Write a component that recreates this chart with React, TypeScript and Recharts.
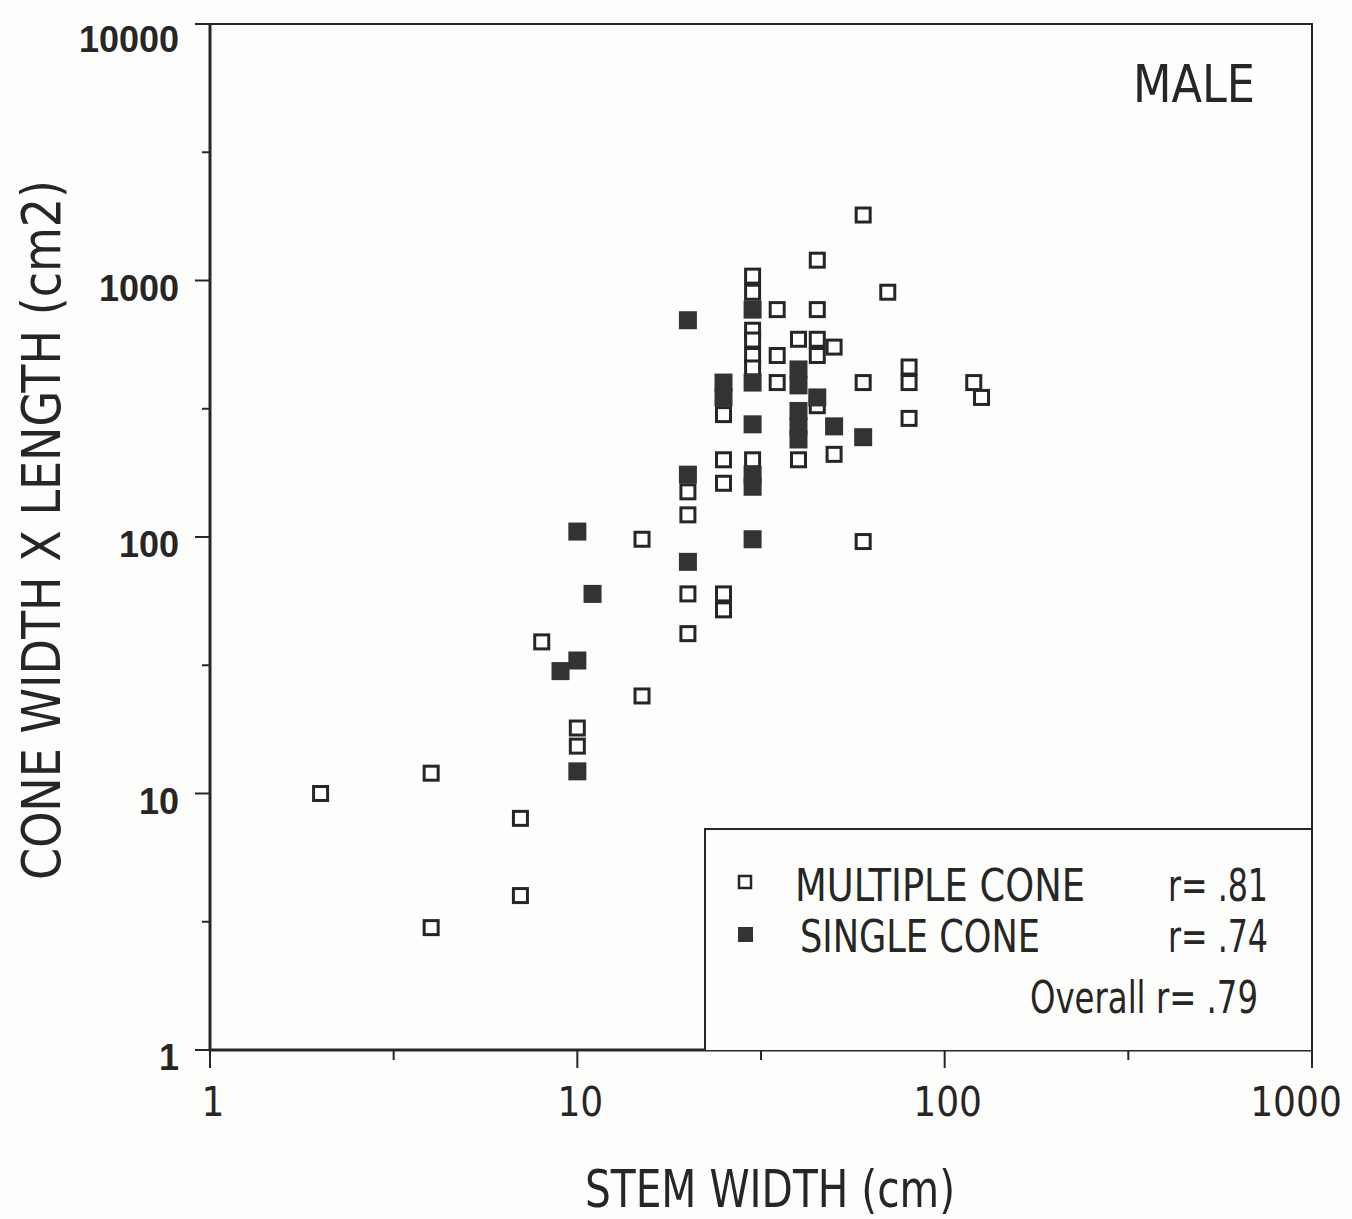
import { ScatterChart, Scatter, XAxis, YAxis, ReferenceArea, Legend } from 'recharts';

const INK = '#262626';
const BG = '#fdfdfb';
const NARROW = '"Liberation Sans Narrow", "Arial Narrow", "DejaVu Sans Condensed", "Liberation Sans", sans-serif';
const BOLD = '"Liberation Sans", Arial, sans-serif';

// axis ticks (log scale, minor marks at half decades)
const xTicks = [1, 3.162, 10, 31.62, 100, 316.2, 1000];
const xTickLabels = ['1', '', '10', '', '100', '', '1000'];
const yTicks = [1, 3.162, 10, 31.62, 100, 316.2, 1000, 3162, 10000];
const yTickLabels = ['1', '', '10', '', '100', '', '1000', '', '10000'];

// multiple cone trees (open squares)
const multipleStem = [2, 4, 4, 7, 7, 8, 10, 10, 15, 15, 20, 20, 20, 20, 25, 25, 25, 25, 25,
    30, 30, 30, 30, 30, 30, 30, 35, 35, 35, 40, 40, 45, 45, 45, 45, 45, 50, 50,
    60, 60, 60, 70, 80, 80, 80, 120, 126];
const multipleArea = [10, 12, 3, 8, 4, 39, 18, 15.3, 98, 24, 150, 122, 60, 42, 300, 200, 162, 60, 52,
    1040, 900, 640, 586, 510, 456, 200, 770, 510, 400, 590, 200, 1200, 770, 590, 510, 325, 550, 210,
    1800, 400, 96, 900, 460, 400, 290, 400, 350];

// single cone trees (filled squares)
const singleStem = [9, 10, 10, 10, 11, 20, 20, 20, 25, 25, 30, 30, 30, 30, 30, 30,
    40, 40, 40, 40, 40, 45, 50, 60];
const singleArea = [30, 105, 33, 12.2, 60, 700, 175, 80, 400, 350, 770, 400, 275, 175, 157, 98,
    450, 390, 310, 270, 240, 350, 270, 245];

const multipleData = multipleStem.map((x, i) => ({ x, y: multipleArea[i] }));
const singleData = singleStem.map((x, i) => ({ x, y: singleArea[i] }));

function OpenSquare({ cx, cy }: any) {
    return <rect x={cx - 7} y={cy - 7} width={14} height={14} fill="#fff" stroke={INK} strokeWidth={3} />;
}

function FilledSquare({ cx, cy }: any) {
    return <rect x={cx - 9} y={cy - 9} width={18} height={18} fill="#333" />;
}

function XTick({ x, y, index }: any) {
    const label = xTickLabels[index];
    const major = label !== '';
    const last = index === xTicks.length - 1;
    return (
        <g>
            <line x1={x} y1={y} x2={x} y2={y + (major ? 18 : 10)} stroke={INK} strokeWidth={2} />
            {major && (
                <text x={last ? x - 16 : x + 3} y={y + 66} textAnchor="middle"
                    fontFamily={NARROW} fontSize={40} fill={INK}>
                    {label}
                </text>
            )}
        </g>
    );
}

function YTick({ x, y, index }: any) {
    const label = yTickLabels[index];
    const major = label !== '';
    const dy = index === yTicks.length - 1 ? 28 : 20;
    return (
        <g>
            <line x1={x} y1={y} x2={x - (major ? 15 : 8)} y2={y} stroke={INK} strokeWidth={2} />
            {major && (
                <text x={x - 31} y={y + dy} textAnchor="end" fontFamily={BOLD} fontWeight="bold" fontSize={36} fill={INK}>
                    {label}
                </text>
            )}
        </g>
    );
}

function YTitle({ viewBox }: any) {
    const cx = viewBox.x + 60;
    const cy = viewBox.y + viewBox.height / 2 - 7;
    return (
        <text transform={`translate(${cx}, ${cy}) rotate(-90)`} textAnchor="middle" fontFamily={NARROW}
            fontSize={54} fill={INK} textLength={700} lengthAdjust="spacingAndGlyphs">
            CONE WIDTH X LENGTH (cm2)
        </text>
    );
}

function XTitle({ viewBox }: any) {
    return (
        <text x={viewBox.x + viewBox.width / 2 + 9} y={viewBox.y + 157} textAnchor="middle" fontFamily={NARROW}
            fontSize={52} fill={INK} textLength={370} lengthAdjust="spacingAndGlyphs">
            STEM WIDTH (cm)
        </text>
    );
}

function PanelTitle({ viewBox }: any) {
    return (
        <text x={viewBox.x + viewBox.width - 57} y={viewBox.y + 78} textAnchor="end" fontFamily={NARROW}
            fontSize={52} fill={INK} textLength={122} lengthAdjust="spacingAndGlyphs">
            MALE
        </text>
    );
}

function LegendBox() {
    const t = { fontFamily: NARROW, fontSize: 44, fill: INK };
    return (
        <svg width={608} height={222} style={{ display: 'block' }}>
            <rect x={1} y={1} width={607} height={222} fill={BG} stroke={INK} strokeWidth={2} />
            <rect x={35} y={48} width={12} height={12} fill="#fff" stroke={INK} strokeWidth={2.5} />
            <text x={91} y={73} {...t} textLength={290} lengthAdjust="spacingAndGlyphs">MULTIPLE CONE</text>
            <text x={464} y={73} {...t} textLength={100} lengthAdjust="spacingAndGlyphs">r= .81</text>
            <rect x={34} y={99} width={15} height={15} fill="#333" />
            <text x={96} y={124} {...t} textLength={240} lengthAdjust="spacingAndGlyphs">SINGLE CONE</text>
            <text x={464} y={124} {...t} textLength={100} lengthAdjust="spacingAndGlyphs">r= .74</text>
            <text x={326} y={185} {...t} textLength={228} lengthAdjust="spacingAndGlyphs">Overall r= .79</text>
        </svg>
    );
}

export default function App() {
    return (
        <div style={{ position: 'absolute', left: 0, top: 0, width: 1352, height: 1219, background: BG }}>
            <ScatterChart width={1352} height={1219} margin={{ top: 24, right: 40, bottom: 0, left: 0 }}>
                <XAxis
                    type="number"
                    dataKey="x"
                    scale="log"
                    domain={[1, 1000]}
                    ticks={xTicks}
                    interval={0}
                    height={169}
                    tickSize={0}
                    tickMargin={0}
                    tickLine={false}
                    tick={<XTick />}
                    axisLine={{ stroke: INK, strokeWidth: 3 }}
                    label={{ content: (p: any) => <XTitle {...p} /> }}
                />
                <YAxis
                    type="number"
                    dataKey="y"
                    scale="log"
                    domain={[1, 10000]}
                    ticks={yTicks}
                    interval={0}
                    width={210}
                    tickSize={0}
                    tickMargin={0}
                    tickLine={false}
                    tick={<YTick />}
                    axisLine={{ stroke: INK, strokeWidth: 3 }}
                    label={{ content: (p: any) => <YTitle {...p} /> }}
                />
                <ReferenceArea
                    x1={1}
                    x2={1000}
                    y1={1}
                    y2={10000}
                    fill="none"
                    stroke={INK}
                    strokeWidth={2}
                    ifOverflow="visible"
                    label={{ content: (p: any) => <PanelTitle {...p} /> }}
                />
                <Legend
                    layout="vertical"
                    align="center"
                    verticalAlign="middle"
                    content={() => <LegendBox />}
                    wrapperStyle={{ position: 'absolute', left: 704, top: 828, width: 608, height: 222 }}
                />
                <Scatter name="MULTIPLE CONE" data={multipleData} shape={<OpenSquare />} isAnimationActive={false} />
                <Scatter name="SINGLE CONE" data={singleData} shape={<FilledSquare />} isAnimationActive={false} />
            </ScatterChart>
        </div>
    );
}
